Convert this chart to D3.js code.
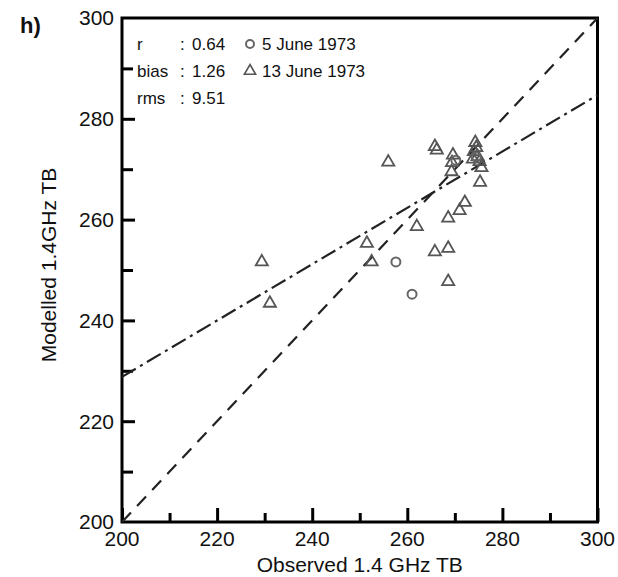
<!DOCTYPE html>
<html>
<head>
<meta charset="utf-8">
<script src="https://cdn.jsdelivr.net/npm/d3@7"></script>
<style>
  body { margin: 0; background: #fff; }
  text { font-family: "Liberation Sans", Arial, sans-serif; fill: #111; }
</style>
</head>
<body>
<div id="chart"></div>
<script>
// observed / modelled 1.4 GHz TB
const june5Obs = [257.6, 261.0, 274.5, 270.2];
const june5Mod = [251.6, 245.2, 272.4, 271.8];

const june13Obs = [229.4, 231.1, 251.5, 252.5, 256.0, 262.0, 265.8, 265.8, 268.6, 268.6, 268.6,
                   269.6, 269.4, 269.3, 271.0, 272.1, 274.3, 274.5, 274.0, 274.8, 275.2, 273.8, 275.6, 275.3, 266.2];
const june13Mod = [251.6, 243.4, 255.3, 251.6, 271.4, 258.6, 274.5, 253.6, 254.3, 247.7, 260.3,
                   272.8, 271.3, 269.5, 261.8, 263.4, 275.3, 274.3, 273.5, 272.5, 271.5, 272.0, 270.3, 267.4, 273.8];

const lineX = [200, 300];
const oneToOneY = [200, 300];
const fitY = [228.8, 284.7];

const xTicks = [200, 220, 240, 260, 280, 300];
const yTicks = [200, 220, 240, 260, 280, 300];
const minorTicks = [210, 230, 250, 270, 290];

const statNames = ['r', 'bias', 'rms'];
const statValues = ['0.64', '1.26', '9.51'];
const seriesNames = ['5 June 1973', '13 June 1973'];

const W = 618, H = 577;
const mLeft = 122, mRight = 597.5, mTop = 18, mBottom = 522;

const svg = d3.select('#chart').append('svg').attr('width', W).attr('height', H);

const x = d3.scaleLinear().domain([200, 300]).range([mLeft, mRight]);
const y = d3.scaleLinear().domain([200, 300]).range([mBottom, mTop]);

// ticks (inward), only bottom and left
svg.append('g').attr('transform', 'translate(0,' + mBottom + ')')
    .call(d3.axisTop(x).tickValues(xTicks).tickSize(14).tickFormat(''))
    .call(g => g.select('.domain').remove())
    .selectAll('line').attr('stroke', '#000').attr('stroke-width', 3);
svg.append('g').attr('transform', 'translate(0,' + mBottom + ')')
    .call(d3.axisTop(x).tickValues(minorTicks).tickSize(9).tickFormat(''))
    .call(g => g.select('.domain').remove())
    .selectAll('line').attr('stroke', '#000').attr('stroke-width', 3);
svg.append('g').attr('transform', 'translate(' + mLeft + ',0)')
    .call(d3.axisRight(y).tickValues(yTicks.slice(1, -1)).tickSize(13).tickFormat(''))
    .call(g => g.select('.domain').remove())
    .selectAll('line').attr('stroke', '#000').attr('stroke-width', 3);
svg.append('g').attr('transform', 'translate(' + mLeft + ',0)')
    .call(d3.axisRight(y).tickValues(minorTicks).tickSize(11).tickFormat(''))
    .call(g => g.select('.domain').remove())
    .selectAll('line').attr('stroke', '#000').attr('stroke-width', 3);

// tick labels
svg.append('g').selectAll('text').data(xTicks).join('text')
    .attr('x', d => x(d)).attr('y', mBottom + 24)
    .attr('text-anchor', 'middle').attr('font-size', 21).text(d => d);
svg.append('g').selectAll('text').data(yTicks).join('text')
    .attr('x', mLeft - 8).attr('y', d => y(d)).attr('dy', '0.35em')
    .attr('text-anchor', 'end').attr('font-size', 21).text(d => d);

// frame
svg.append('rect').attr('x', mLeft).attr('y', mTop)
    .attr('width', mRight - mLeft).attr('height', mBottom - mTop)
    .attr('fill', 'none').attr('stroke', '#000').attr('stroke-width', 3);

// titles
svg.append('text').attr('x', (mLeft + mRight) / 2).attr('y', 572)
    .attr('text-anchor', 'middle').attr('font-size', 21).text('Observed 1.4 GHz TB');
svg.append('text').attr('transform', 'translate(56,265) rotate(-90)')
    .attr('text-anchor', 'middle').attr('font-size', 21).text('Modelled 1.4GHz TB');
svg.append('text').attr('x', 20).attr('y', 33).attr('font-size', 22)
    .attr('font-weight', 'bold').text('h)');

// lines
const line = d3.line().x(d => x(d[0])).y(d => y(d[1]));
svg.append('path').datum(lineX.map((v, i) => [v, oneToOneY[i]])).attr('d', line)
    .attr('fill', 'none').attr('stroke', '#222').attr('stroke-width', 2.2)
    .attr('stroke-dasharray', '13,9');
svg.append('path').datum(lineX.map((v, i) => [v, fitY[i]])).attr('d', line)
    .attr('fill', 'none').attr('stroke', '#222').attr('stroke-width', 2.2)
    .attr('stroke-dasharray', '16,5,3,5');

// markers
const tri = d3.symbol().type(d3.symbolTriangle).size(64);
svg.append('g').selectAll('path').data(june13Obs.map((v, i) => [v, june13Mod[i]])).join('path')
    .attr('d', tri).attr('transform', d => 'translate(' + x(d[0]) + ',' + y(d[1]) + ')')
    .attr('fill', 'none').attr('stroke', '#555').attr('stroke-width', 1.8);
svg.append('g').selectAll('circle').data(june5Obs.map((v, i) => [v, june5Mod[i]])).join('circle')
    .attr('cx', d => x(d[0])).attr('cy', d => y(d[1])).attr('r', 4.5)
    .attr('fill', 'none').attr('stroke', '#666').attr('stroke-width', 2);

// stats legend
const lg = svg.append('g').attr('font-size', 17);
statNames.forEach((n, i) => {
    const by = 50 + i * 27;
    lg.append('text').attr('x', 137).attr('y', by).text(n);
    lg.append('text').attr('x', 180).attr('y', by).text(':');
    lg.append('text').attr('x', 192).attr('y', by).text(statValues[i]);
});
seriesNames.forEach((n, i) => {
    const by = 50 + i * 27;
    if (i === 0) {
        lg.append('circle').attr('cx', 250).attr('cy', by - 6).attr('r', 4)
            .attr('fill', 'none').attr('stroke', '#666').attr('stroke-width', 2);
    } else {
        lg.append('path').attr('d', d3.symbol().type(d3.symbolTriangle).size(55))
            .attr('transform', 'translate(250,' + (by - 6) + ')')
            .attr('fill', 'none').attr('stroke', '#555').attr('stroke-width', 1.6);
    }
    lg.append('text').attr('x', 262).attr('y', by).text(n);
});
</script>
</body>
</html>
